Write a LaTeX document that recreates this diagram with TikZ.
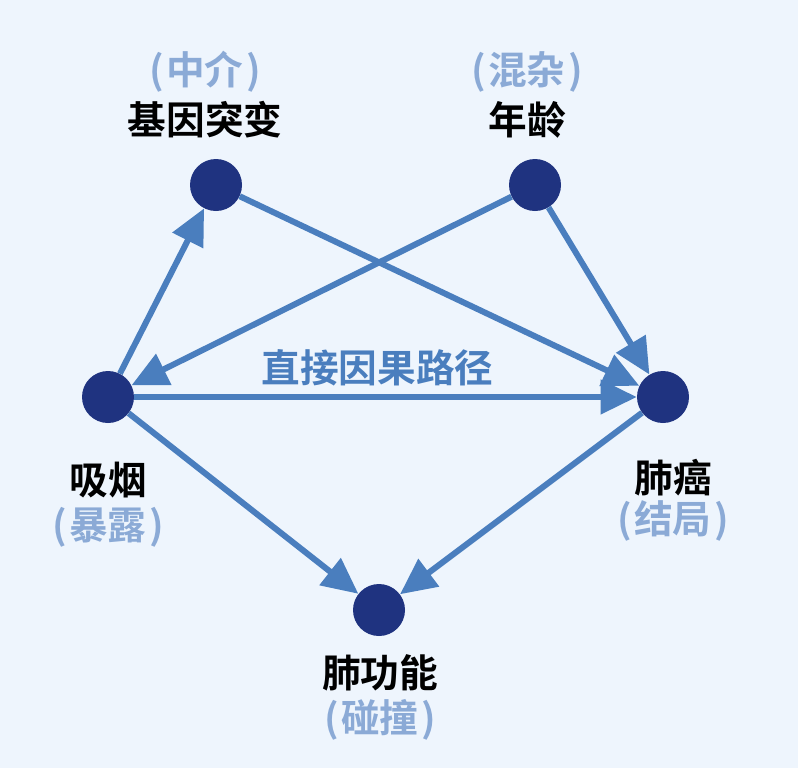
\documentclass[tikz,border=0pt]{standalone}
\usepackage{fontspec}
\newfontfamily\cjk{Noto Sans CJK SC}[BoldFont={Noto Sans CJK SC Bold}]
\usetikzlibrary{arrows.meta, positioning}

\definecolor{bgblue}{HTML}{EEF5FD}
\definecolor{navy}{HTML}{1F3380}
\definecolor{edgeblue}{HTML}{4A7EBE}
\definecolor{rolegray}{HTML}{8BAAD6}

\newcommand{\role}[1]{(\kern2pt#1\kern2pt)}

\begin{document}
\begin{tikzpicture}[x=0.75pt, y=-0.75pt,
            var/.style={circle, fill=navy, minimum size=39pt, inner sep=0pt},
            var name/.style={font=\cjk\bfseries\fontsize{29}{33}\selectfont, text=black, inner sep=0pt},
            var role/.style={var name, text=rolegray},
            edge/.style={-{Triangle[length=27pt, width=25pt]}, line width=4.5pt, edgeblue}]

            \fill[bgblue] (0,0) rectangle (798,768);
            \useasboundingbox (0,0) rectangle (798,768);

            % Variables
            \node[var] (gene)   at (216,185) {};
            \node[var] (age)    at (535,185) {};
            \node[var] (smoke)  at (108,397) {};
            \node[var] (cancer) at (663,397) {};
            \node[var] (lung)   at (379,610) {};

            % Names and roles
            \node[var role] (gene role)   at (205,72)  {\role{中介}};
            \node[var name] (gene name)   at (205,120) {基因突变};
            \node[var role] (age role)    at (527,72)  {\role{混杂}};
            \node[var name] (age name)    at (527,120) {年龄};
            \node[var name] (smoke name)  at (108,480) {吸烟};
            \node[var role] (smoke role)  at (108,527) {\role{暴露}};
            \node[var name] (cancer name) at (673,478) {肺癌};
            \node[var role] (cancer role) at (673,521) {\role{结局}};
            \node[var name] (lung name)   at (380,673) {肺功能};
            \node[var role] (lung role)   at (380,720) {\role{碰撞}};

            % Causal arrows
            \foreach \a/\b in {smoke/gene, gene/cancer, age/smoke, age/cancer, smoke/lung, cancer/lung} {
                \draw[edge] (\a) -- (\b);
            }

            % Direct path
            \draw[edge] (smoke) -- (cancer)
                node[midway, above=6pt, xshift=-6pt, var name, text=edgeblue] (direct) {直接因果路径};
        \end{tikzpicture}
\end{document}
